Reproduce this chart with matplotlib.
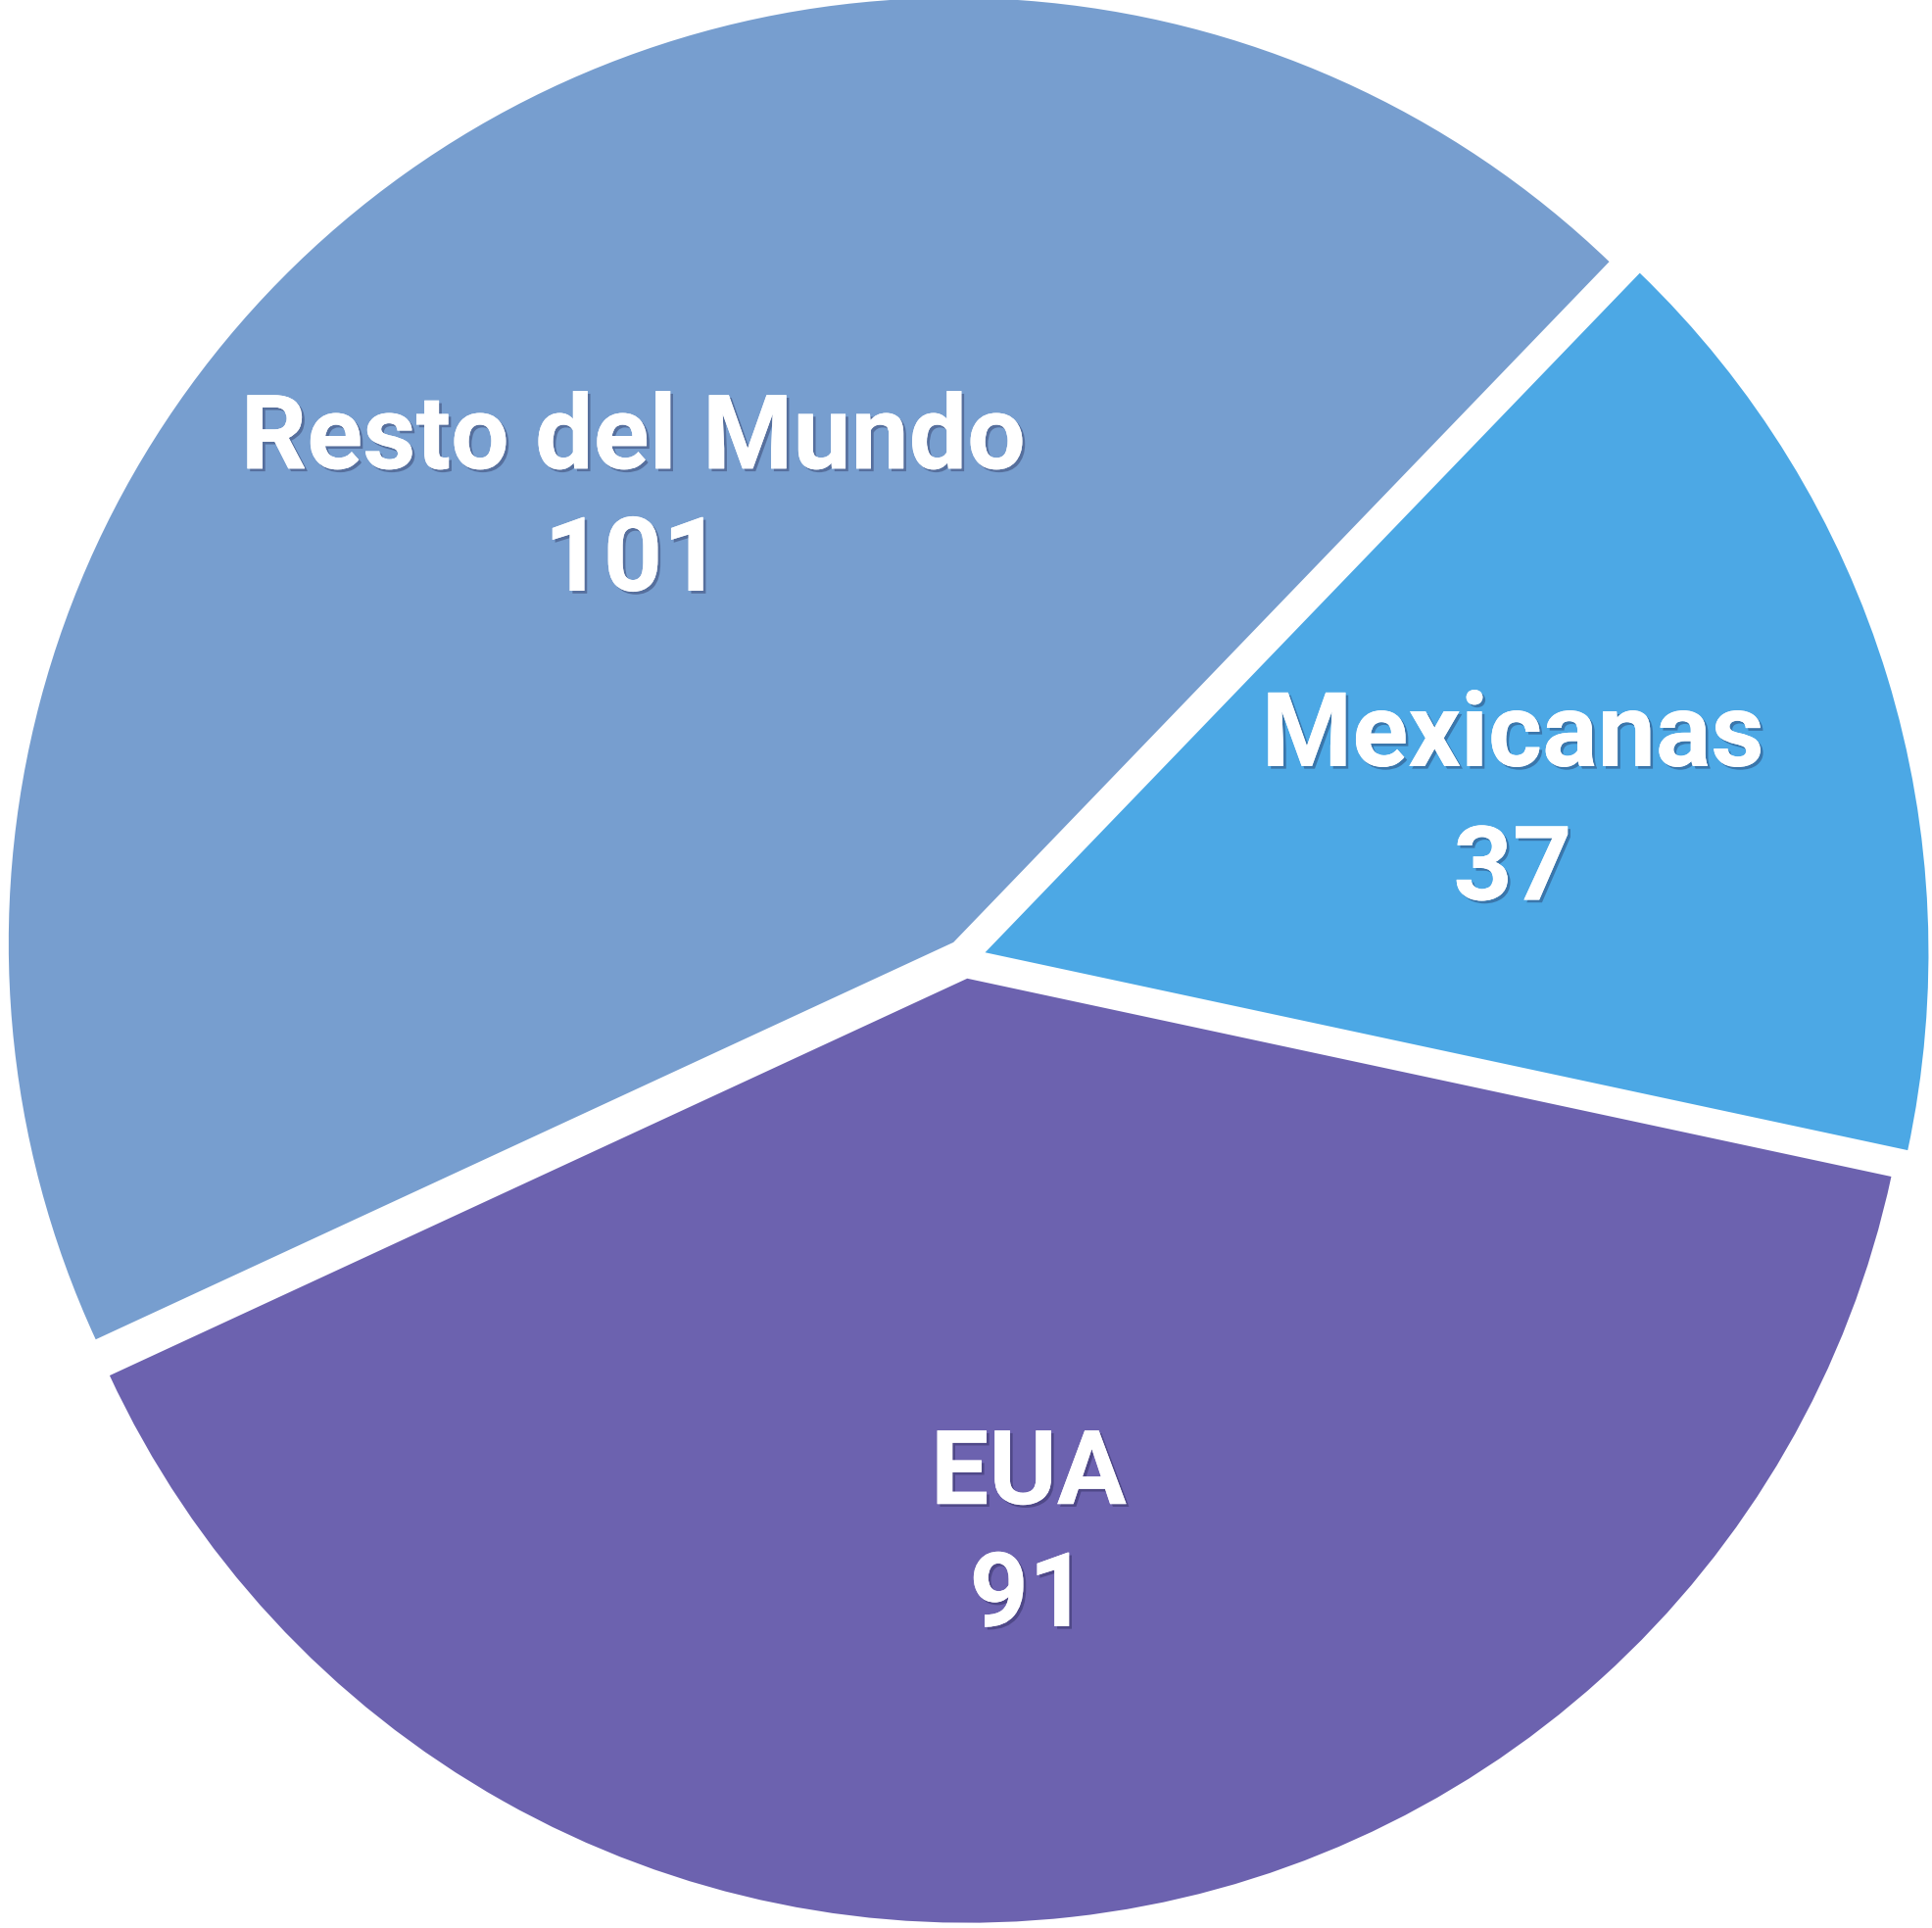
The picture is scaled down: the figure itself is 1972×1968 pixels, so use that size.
import matplotlib
matplotlib.use('Agg')
import matplotlib.pyplot as plt
import matplotlib.patheffects as pe
import matplotlib.transforms as mtransforms

categories = ['Mexicanas', 'Resto del Mundo', 'EUA']
values = [37, 101, 91]
colors = ['#4CA8E5', '#779ECF', '#6C62AF']

W, H = 1972, 1968
fig = plt.figure(figsize=(W / 100, H / 100), dpi=100)
ax = fig.add_axes([0, 0, 1, 1])
labels = [f'{c}\n{v}' for c, v in zip(categories, values)]
wedges, texts = ax.pie(
    values, labels=labels, colors=colors, startangle=-12.1, counterclock=True,
    explode=[0.02] * 3, labeldistance=0.585,
    wedgeprops=dict(edgecolor='white', linewidth=1.5),
    textprops=dict(color='white', fontsize=76, fontweight='bold',
                   family=['Roboto', 'DejaVu Sans']))
spacings = [1.45, 1.3, 1.3]
shifts_pt = [10, 7, 7]
for t, ls, sh in zip(texts, spacings, shifts_pt):
    t.set_ha('center')
    t.set_va('center')
    t.set_multialignment('center')
    t.set_linespacing(ls)
    t.set_transform(t.get_transform() +
                    mtransforms.ScaledTranslation(0, -sh / 72, fig.dpi_scale_trans))
    t.set_path_effects([pe.withSimplePatchShadow(offset=(2.0, -2.0), shadow_rgbFace='#1a1a40', alpha=0.35),
                        pe.Normal()])

px = 966.0
cx, cy = 985.0, 989.5
ax.set_xlim(-cx / px, (W - cx) / px)
ax.set_ylim(-cy / px, (H - cy) / px)
ax.set_aspect('auto')
ax.axis('off')
fig.savefig('out.png', dpi=100, facecolor='white')
